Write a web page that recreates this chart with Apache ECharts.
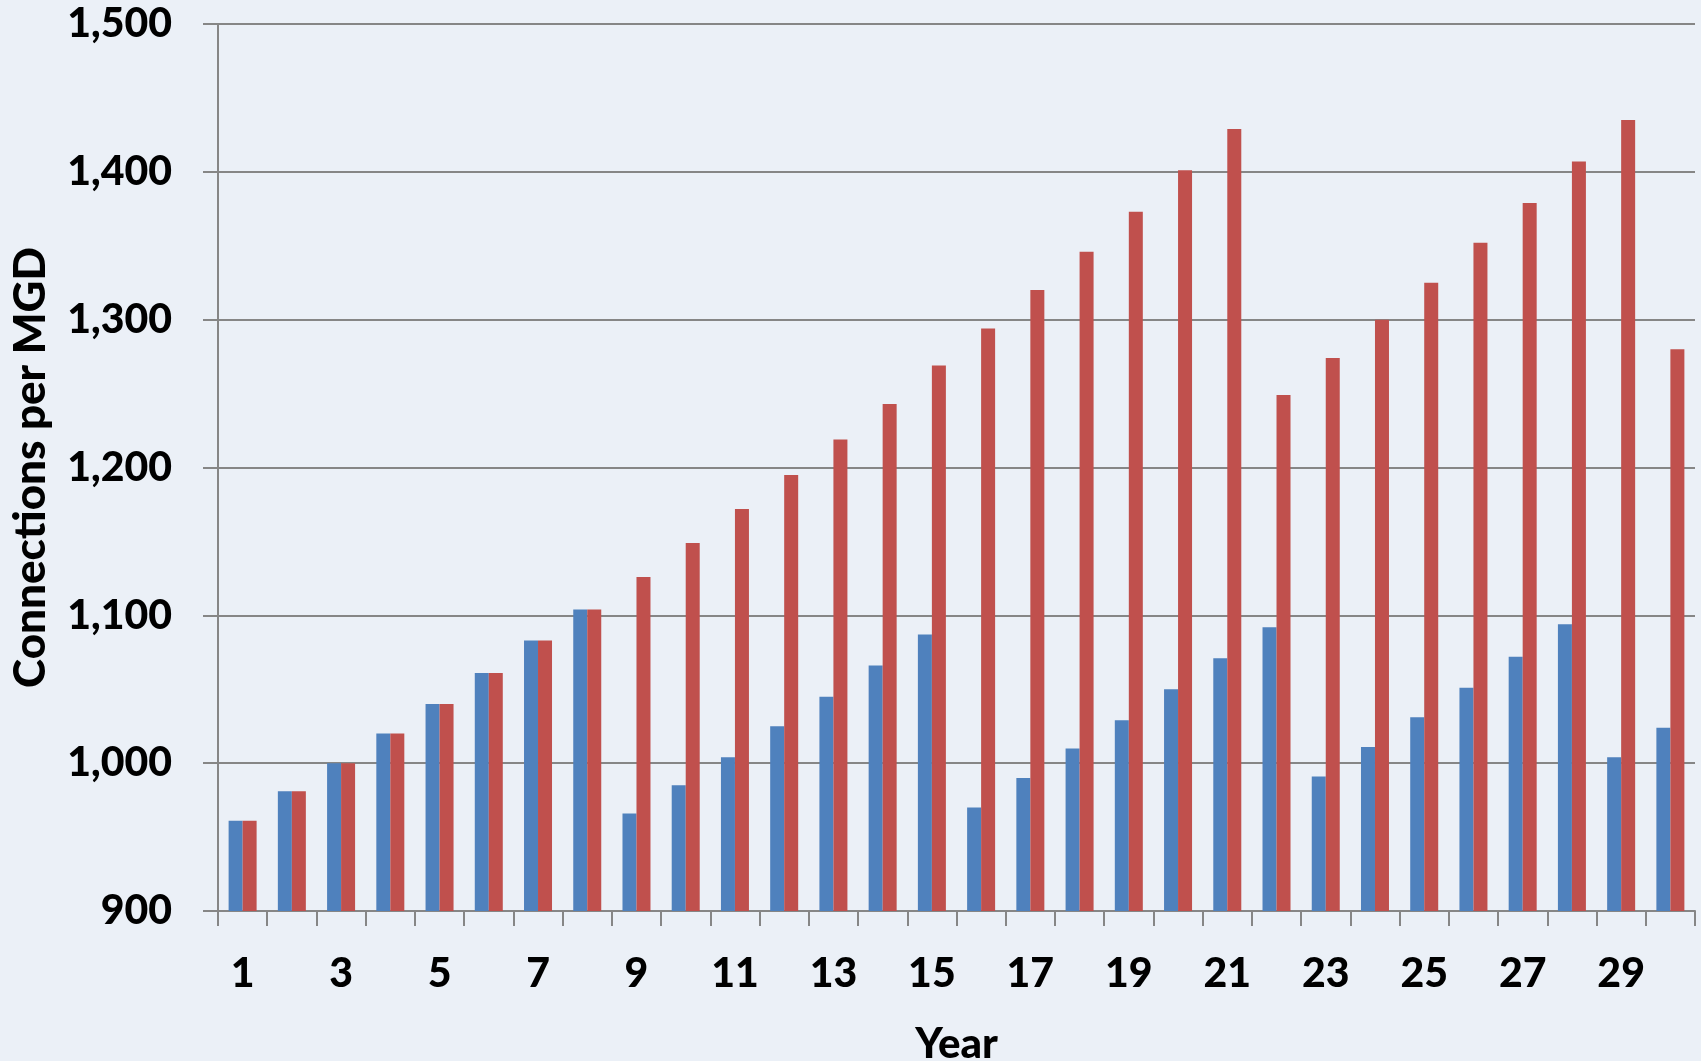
<!DOCTYPE html>
<html>
<head>
<meta charset="utf-8">
<script src="https://cdn.jsdelivr.net/npm/echarts@6/dist/echarts.min.js"></script>
<style>
	html, body { margin: 0; padding: 0; background: #ebf0f7; }
	#chart { width: 1701px; height: 1061px; }
</style>
</head>
<body>
<div id="chart"></div>
<script>
var years = [];
for (var y = 1; y <= 30; y++) { years.push(String(y)); }

// blue series
var baseValues = [961, 981, 1000, 1020, 1040, 1061, 1083, 1104, 966, 985,
	1004, 1025, 1045, 1066, 1087, 970, 990, 1010, 1029, 1050,
	1071, 1092, 991, 1011, 1031, 1051, 1072, 1094, 1004, 1024];
// red series
var growthValues = [961, 981, 1000, 1020, 1040, 1061, 1083, 1104, 1126, 1149,
	1172, 1195, 1219, 1243, 1269, 1294, 1320, 1346, 1373, 1401,
	1429, 1249, 1274, 1300, 1325, 1352, 1379, 1407, 1435, 1280];

var font = 'Lato',
	textColor = '#000',
	lineColor = '#868686';

var chart = echarts.init(document.getElementById('chart'));

chart.setOption({
	backgroundColor: '#ebf0f7',
	animation: false,
	grid: { left: 218, right: 6, top: 24, bottom: 150, containLabel: false, outerBoundsMode: 'none' },
	xAxis: {
		type: 'category',
		data: years,
		name: 'Year',
		nameLocation: 'middle',
		nameGap: 112,
		nameTextStyle: { fontFamily: font, fontWeight: 900, fontSize: 42, color: textColor },
		axisLine: { lineStyle: { color: lineColor, width: 2 } },
		axisTick: { show: true, length: 15, interval: 0, lineStyle: { color: lineColor, width: 2 } },
		axisLabel: { interval: 1, margin: 42, fontFamily: font, fontWeight: 900, fontSize: 41, color: textColor }
	},
	yAxis: {
		type: 'value',
		min: 900,
		max: 1500,
		interval: 100,
		name: 'Connections per MGD',
		nameLocation: 'middle',
		nameGap: 165,
		nameTextStyle: { fontFamily: font, fontWeight: 900, fontSize: 44, color: textColor },
		axisLine: { show: true, lineStyle: { color: lineColor, width: 2 } },
		axisTick: { show: true, length: 15, lineStyle: { color: lineColor, width: 2 } },
		axisLabel: {
			margin: 46, fontFamily: font, fontWeight: 900, fontSize: 41, color: textColor,
			formatter: function (v) { return v.toLocaleString('en-US'); }
		},
		splitLine: { lineStyle: { color: lineColor, width: 2 } }
	},
	series: [
		{ type: 'bar', data: baseValues, barWidth: 14, barGap: '0%', itemStyle: { color: '#4f81bd' } },
		{ type: 'bar', data: growthValues, barWidth: 14, barGap: '0%', itemStyle: { color: '#c0504d' } }
	]
});
</script>
</body>
</html>
